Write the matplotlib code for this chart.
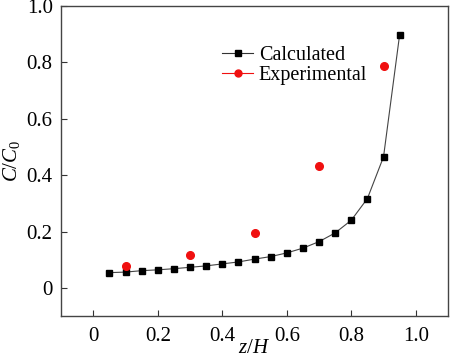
import matplotlib
matplotlib.use("Agg")
import matplotlib.pyplot as plt
from matplotlib.lines import Line2D

plt.rcParams['font.family'] = 'Liberation Serif'
plt.rcParams['mathtext.fontset'] = 'custom'
plt.rcParams['mathtext.rm'] = 'Liberation Serif'
plt.rcParams['mathtext.it'] = 'Liberation Serif:italic'

# calculated profile
z_calc = [0.05, 0.10, 0.15, 0.20, 0.25, 0.30, 0.35, 0.40, 0.45, 0.50,
          0.55, 0.60, 0.65, 0.70, 0.75, 0.80, 0.85, 0.90, 0.95]
c_calc = [0.054, 0.056, 0.061, 0.064, 0.068, 0.073, 0.078, 0.085, 0.092, 0.102,
          0.111, 0.124, 0.141, 0.164, 0.195, 0.240, 0.317, 0.465, 0.899]

# experimental points
z_exp = [0.1, 0.3, 0.5, 0.7, 0.9]
c_exp = [0.076, 0.116, 0.196, 0.434, 0.789]

xticks = [0, 0.2, 0.4, 0.6, 0.8, 1.0]
xlabels = ['0', '0.2', '0.4', '0.6', '0.8', '1.0']
yticks = [0, 0.2, 0.4, 0.6, 0.8, 1.0]
ylabels = ['0', '0.2', '0.4', '0.6', '0.8', '1.0']

fig = plt.figure(figsize=(4.5, 3.62), dpi=100)
ax = fig.add_axes([0.1356, 0.127, 0.86, 0.856])

ax.plot(z_calc, c_calc, color='#444444', lw=0.8, marker='s', ms=5,
        mfc='black', mec='black')
ax.plot(z_exp, c_exp, ls='none', marker='o', ms=5.5, mfc='#f01010', mec='#f01010')

ax.set_xlim(-0.1, 1.1)
ax.set_ylim(-0.1, 1.0)
ax.set_xticks(xticks)
ax.set_xticklabels(xlabels)
ax.set_yticks(yticks)
ax.set_yticklabels(ylabels)
ax.tick_params(direction='in', length=4, width=0.8, labelsize=15, colors='#333333',
               labelcolor='black')
ax.tick_params(axis='x', pad=8)
ax.tick_params(axis='y', pad=6)
for s in ax.spines.values():
    s.set_color('#444444')
    s.set_linewidth(1.0)

ax.set_xlabel('$z/H$', fontsize=15, labelpad=-5)
ax.set_ylabel('$C/C_0$', fontsize=15, labelpad=3)

handles = [
    Line2D([], [], color='#333333', lw=0.8, marker='s', ms=4.5, mfc='black', mec='black'),
    Line2D([], [], color='#f01010', lw=0.8, marker='o', ms=5, mfc='#f01010', mec='#f01010'),
]
ax.legend(handles, ['Calculated', 'Experimental'], loc='upper left',
          bbox_to_anchor=(0.391, 0.904), frameon=False, fontsize=14.5,
          handlelength=1.5, handletextpad=0.3, labelspacing=0.05, borderpad=0)

fig.savefig('out.png', dpi=100)
